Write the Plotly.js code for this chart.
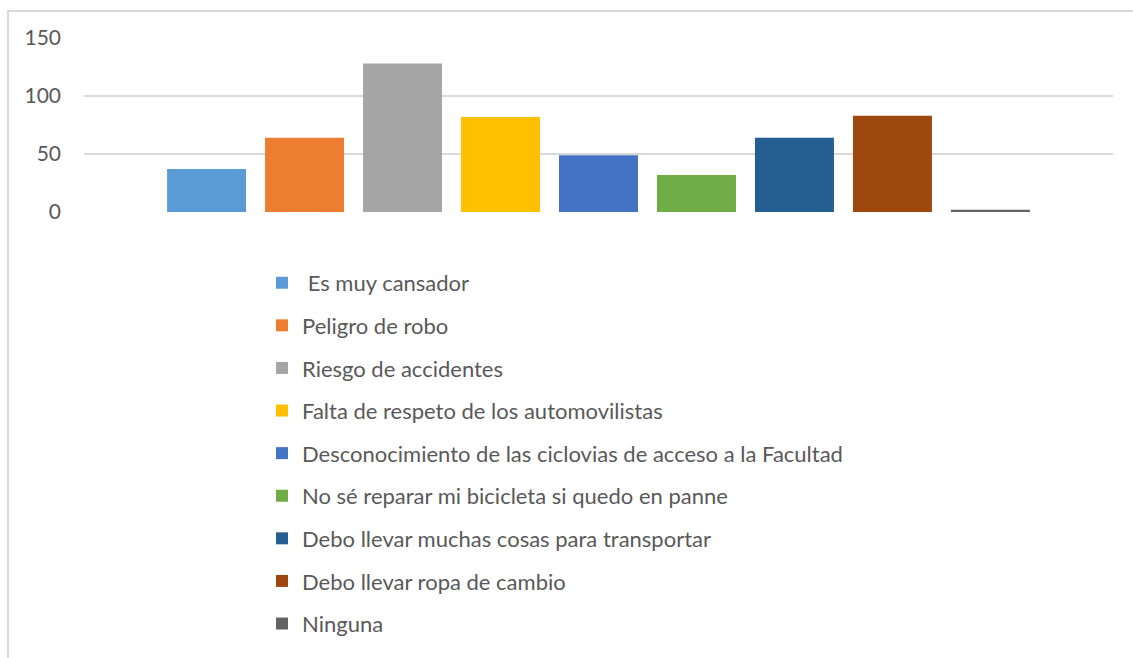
<!DOCTYPE html>
<html><head><meta charset="utf-8">
<script src="https://cdn.plot.ly/plotly-3.0.1.min.js"></script>
<style>
html,body{margin:0;padding:0;background:#fff;overflow:hidden}
#frame{position:absolute;left:7px;top:10px;width:2000px;height:2000px;border-left:2px solid #d9d9d9;border-top:2px solid #d9d9d9;box-sizing:border-box}
#chart{position:absolute;left:0;top:0;width:1133px;height:658px}
</style></head>
<body>
<div id="frame"></div>
<div id="chart"></div>
<script>
const seriesNames = [
  " Es muy cansador",
  "Peligro de robo",
  "Riesgo de accidentes",
  "Falta de respeto de los automovilistas",
  "Desconocimiento de las ciclovias de acceso a la Facultad",
  "No sé reparar mi bicicleta si quedo en panne",
  "Debo llevar muchas cosas para transportar",
  "Debo llevar ropa de cambio",
  "Ninguna"
];
const seriesValues = [37, 64, 128, 82, 49, 32, 64, 83, 2];
const seriesColors = ["#5B9BD5","#ED7D31","#A5A5A5","#FFC000","#4472C4","#70AD47","#255E91","#9E480E","#636363"];
const category = [""];
const yTicks = [0, 50, 100, 150];

const traces = seriesNames.map((n, i) => ({
  type: "bar",
  name: n,
  x: category,
  y: [seriesValues[i]],
  legendgroup: "g" + i,
  marker: {color: seriesColors[i], line: {width: 0}},
  hoverinfo: "name+y"
}));

const layout = {
  width: 1133, height: 658,
  paper_bgcolor: "rgba(0,0,0,0)", plot_bgcolor: "rgba(0,0,0,0)",
  margin: {l: 84, r: 20, t: 38, b: 446},
  barmode: "group",
  bargap: 0.143,
  bargroupgap: 0.194,
  font: {family: "Lato, 'Liberation Sans', sans-serif", color: "#595959"},
  xaxis: {showticklabels: false, showgrid: false, zeroline: false, showline: false, ticks: ""},
  yaxis: {
    range: [0, 150], tickvals: yTicks, ticktext: yTicks.map(String),
    showgrid: true, gridcolor: "#d9d9d9", gridwidth: 2,
    zeroline: false, showline: false, ticks: "",
    ticklabelstandoff: 22,
    tickfont: {size: 21, color: "#595959"}
  },
  showlegend: true,
  legend: {
    x: 0.173, xanchor: "left", y: -0.287, yanchor: "top",
    traceorder: "grouped", tracegroupgap: 11,
    maxheight: 420,
    font: {size: 22, color: "#595959"},
    bgcolor: "rgba(0,0,0,0)"
  }
};

Plotly.newPlot("chart", traces, layout, {displayModeBar: false, staticPlot: true});
</script>
</body></html>
